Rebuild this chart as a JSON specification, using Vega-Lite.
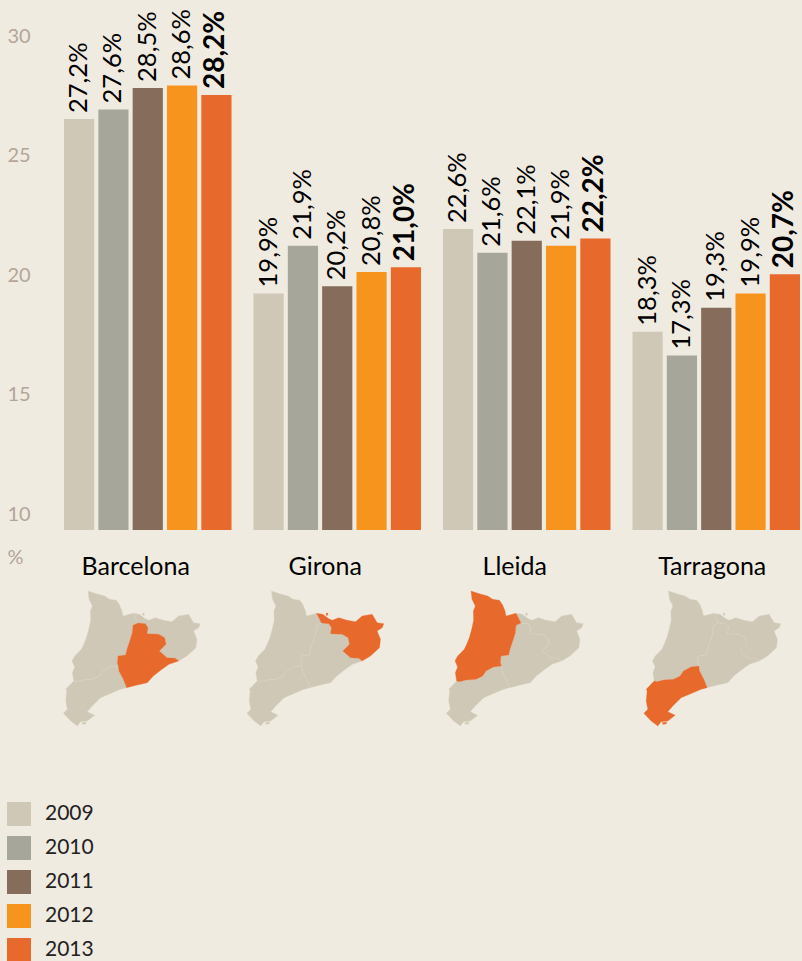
{"$schema":"https://vega.github.io/schema/vega-lite/v6.json","background":"#f0ebe1","padding":0,"autosize":{"type":"pad"},"config":{"view":{"stroke":null},"font":"Lato"},"datasets":{"bars":[{"province":"Barcelona","year":"2009","value":27.2,"label":"27,2%"},{"province":"Barcelona","year":"2010","value":27.6,"label":"27,6%"},{"province":"Barcelona","year":"2011","value":28.5,"label":"28,5%"},{"province":"Barcelona","year":"2012","value":28.6,"label":"28,6%"},{"province":"Barcelona","year":"2013","value":28.2,"label":"28,2%"},{"province":"Girona","year":"2009","value":19.9,"label":"19,9%"},{"province":"Girona","year":"2010","value":21.9,"label":"21,9%"},{"province":"Girona","year":"2011","value":20.2,"label":"20,2%"},{"province":"Girona","year":"2012","value":20.8,"label":"20,8%"},{"province":"Girona","year":"2013","value":21.0,"label":"21,0%"},{"province":"Lleida","year":"2009","value":22.6,"label":"22,6%"},{"province":"Lleida","year":"2010","value":21.6,"label":"21,6%"},{"province":"Lleida","year":"2011","value":22.1,"label":"22,1%"},{"province":"Lleida","year":"2012","value":21.9,"label":"21,9%"},{"province":"Lleida","year":"2013","value":22.2,"label":"22,2%"},{"province":"Tarragona","year":"2009","value":18.3,"label":"18,3%"},{"province":"Tarragona","year":"2010","value":17.3,"label":"17,3%"},{"province":"Tarragona","year":"2011","value":19.3,"label":"19,3%"},{"province":"Tarragona","year":"2012","value":19.9,"label":"19,9%"},{"province":"Tarragona","year":"2013","value":20.7,"label":"20,7%"}],"regions":[{"type":"Feature","properties":{"name":"Lleida"},"geometry":{"type":"Polygon","coordinates":[[[102,30],[127,38],[152,45],[167,55],[187,58],[197,72],[204,90],[207,105],[237,97],[244,110],[252,126],[237,133],[235,155],[229,175],[219,205],[215,222],[192,225],[190,245],[193,255],[169,258],[147,270],[137,285],[117,295],[87,297],[67,302],[59,300],[55,275],[62,258],[54,240],[62,225],[82,205],[89,190],[97,170],[104,145],[110,118],[109,90],[115,75],[105,55],[102,30]]]}},{"type":"Feature","properties":{"name":"Barcelona"},"geometry":{"type":"Polygon","coordinates":[[[237,133],[252,126],[274,128],[282,140],[279,158],[314,160],[332,170],[336,190],[316,210],[339,230],[364,232],[374,240],[345,250],[320,268],[298,285],[280,305],[250,312],[218,320],[208,295],[195,270],[193,255],[190,245],[192,225],[215,222],[219,205],[229,175],[235,155],[237,133]]]}},{"type":"Feature","properties":{"name":"Girona"},"geometry":{"type":"MultiPolygon","coordinates":[[[[237,97],[256,100],[272,112],[284,118],[304,110],[329,118],[354,122],[374,105],[404,100],[419,125],[439,128],[434,140],[419,150],[429,175],[426,200],[399,225],[374,240],[364,232],[339,230],[316,210],[336,190],[332,170],[314,160],[279,158],[282,140],[274,128],[252,126],[244,110],[237,97]]],[[[266,96],[271,96],[271,103],[266,103],[266,96]]]]}},{"type":"Feature","properties":{"name":"Tarragona"},"geometry":{"type":"MultiPolygon","coordinates":[[[[59,300],[67,302],[87,297],[117,295],[137,285],[147,270],[169,258],[193,255],[195,270],[208,295],[218,320],[200,325],[165,340],[140,350],[115,375],[100,392],[122,403],[100,420],[80,422],[70,435],[50,420],[28,397],[40,385],[35,360],[38,330],[35,325],[59,300]]],[[[83,425],[97,423],[95,429],[85,430],[83,425]]]]}}]},"spacing":0,"vconcat":[{"width":802,"height":530,"data":{"name":"bars"},"encoding":{"x":{"field":"province","type":"nominal","scale":{"domain":["Barcelona","Girona","Lleida","Tarragona"],"range":[64,800],"paddingInner":0.116,"paddingOuter":0},"axis":{"title":null,"orient":"bottom","domain":false,"ticks":false,"labelAngle":0,"labelFontSize":25,"labelColor":"#000000","labelPadding":24,"labelFont":"Lato","labelOffset":{"condition":{"test":"datum.value === 'Tarragona'","value":-4},"value":-12}}},"xOffset":{"field":"year","type":"nominal","scale":{"paddingInner":0.12,"paddingOuter":0}},"y":{"field":"value","type":"quantitative","scale":{"domain":[10,32.18],"nice":false,"zero":false,"clamp":true},"axis":{"values":[10,15,20,25,30],"grid":false,"domain":false,"ticks":false,"labelAlign":"left","labelPadding":-7,"labelOffset":-16,"labelFontSize":20,"labelColor":"#b3a698","title":"%","titleAngle":0,"titleX":7,"titleY":557,"titleAlign":"left","titleBaseline":"middle","titleFontSize":20,"titleFontWeight":"normal","titleColor":"#b3a698"}}},"layer":[{"mark":{"type":"bar"},"encoding":{"color":{"field":"year","type":"nominal","scale":{"domain":["2009","2010","2011","2012","2013"],"range":["#cfc8b6","#a6a69b","#866d5b","#f7941e","#e8692c"]},"legend":{"orient":"none","legendX":7,"legendY":802,"title":null,"symbolType":"square","symbolSize":576,"symbolStrokeWidth":0,"symbolOpacity":1,"labelFontSize":21,"labelColor":"#222222","labelOffset":14,"rowPadding":10,"padding":0}}}},{"transform":[{"filter":"datum.year !== '2013'"}],"mark":{"type":"text","angle":-90,"align":"left","baseline":"middle","dx":6,"fontSize":25.5,"color":"#000000"},"encoding":{"text":{"field":"label","type":"nominal"}}},{"transform":[{"filter":"datum.year === '2013'"}],"mark":{"type":"text","angle":-90,"align":"left","baseline":"middle","dx":6,"fontSize":28,"fontWeight":"bold","color":"#000000"},"encoding":{"text":{"field":"label","type":"nominal"}}}]},{"spacing":0,"hconcat":[{"width":200.5,"height":150,"data":{"name":"regions"},"projection":{"type":"identity","scale":0.3333,"translate":[54,2],"precision":0.51},"layer":[{"transform":[{"filter":"datum.properties.name !== 'Barcelona'"}],"mark":{"type":"geoshape","fill":"#cfc8b6","stroke":"#d9d3c3","strokeWidth":0.4}},{"transform":[{"filter":"datum.properties.name === 'Barcelona'"}],"mark":{"type":"geoshape","fill":"#e8692c","stroke":"#e8692c","strokeWidth":0.3}}]},{"width":200.5,"height":150,"data":{"name":"regions"},"projection":{"type":"identity","scale":0.3333,"translate":[36.5,2],"precision":0.52},"layer":[{"transform":[{"filter":"datum.properties.name !== 'Girona'"}],"mark":{"type":"geoshape","fill":"#cfc8b6","stroke":"#d9d3c3","strokeWidth":0.4}},{"transform":[{"filter":"datum.properties.name === 'Girona'"}],"mark":{"type":"geoshape","fill":"#e8692c","stroke":"#e8692c","strokeWidth":0.3}}]},{"width":200.5,"height":150,"data":{"name":"regions"},"projection":{"type":"identity","scale":0.3333,"translate":[35,2],"precision":0.53},"layer":[{"transform":[{"filter":"datum.properties.name !== 'Lleida'"}],"mark":{"type":"geoshape","fill":"#cfc8b6","stroke":"#d9d3c3","strokeWidth":0.4}},{"transform":[{"filter":"datum.properties.name === 'Lleida'"}],"mark":{"type":"geoshape","fill":"#e8692c","stroke":"#e8692c","strokeWidth":0.3}}]},{"width":200.5,"height":150,"data":{"name":"regions"},"projection":{"type":"identity","scale":0.3333,"translate":[31.5,2],"precision":0.54},"layer":[{"transform":[{"filter":"datum.properties.name !== 'Tarragona'"}],"mark":{"type":"geoshape","fill":"#cfc8b6","stroke":"#d9d3c3","strokeWidth":0.4}},{"transform":[{"filter":"datum.properties.name === 'Tarragona'"}],"mark":{"type":"geoshape","fill":"#e8692c","stroke":"#e8692c","strokeWidth":0.3}}]}]}]}
